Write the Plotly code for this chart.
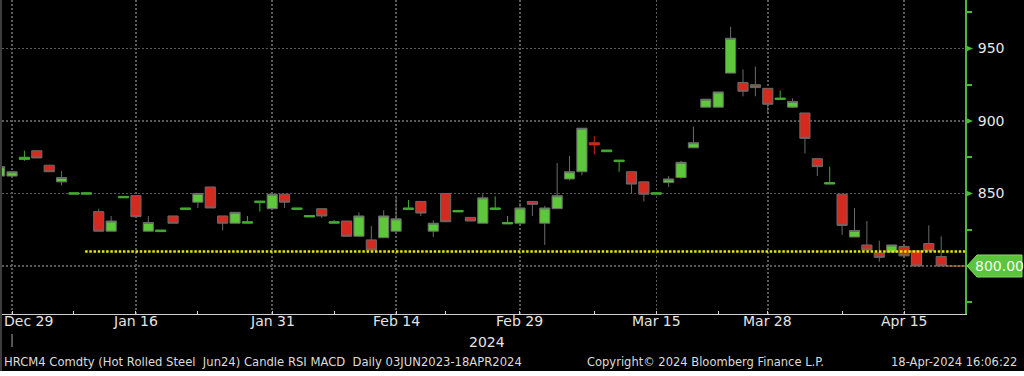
import plotly.graph_objects as go

# ---------------- data ----------------
dates = ["2023-12-28", "2023-12-29",
         "2024-01-02", "2024-01-03", "2024-01-04", "2024-01-05", "2024-01-08", "2024-01-09", "2024-01-10",
         "2024-01-11", "2024-01-12", "2024-01-16", "2024-01-17", "2024-01-18", "2024-01-19", "2024-01-22",
         "2024-01-23", "2024-01-24", "2024-01-25", "2024-01-26", "2024-01-29", "2024-01-30", "2024-01-31",
         "2024-02-01", "2024-02-02", "2024-02-05", "2024-02-06", "2024-02-07", "2024-02-08", "2024-02-09",
         "2024-02-12", "2024-02-13", "2024-02-14", "2024-02-15", "2024-02-16", "2024-02-20", "2024-02-21",
         "2024-02-22", "2024-02-23", "2024-02-26", "2024-02-27", "2024-02-28", "2024-02-29",
         "2024-03-01", "2024-03-04", "2024-03-05", "2024-03-06", "2024-03-07", "2024-03-08", "2024-03-11",
         "2024-03-12", "2024-03-13", "2024-03-14", "2024-03-15", "2024-03-18", "2024-03-19", "2024-03-20",
         "2024-03-21", "2024-03-22", "2024-03-25", "2024-03-26", "2024-03-27", "2024-03-28",
         "2024-04-01", "2024-04-02", "2024-04-03", "2024-04-04", "2024-04-05", "2024-04-08", "2024-04-09",
         "2024-04-10", "2024-04-11", "2024-04-12", "2024-04-15", "2024-04-16", "2024-04-17", "2024-04-18"]

opens = [862, 862, 873.5, 879.5, 869.5, 858, 849.5, 849.5, 837.5, 824,
         847, 848.5, 824, 823.7, 834.5, 839, 844, 854.5, 834.5, 829.5,
         829.5, 843.7, 839.5, 849.5, 839, 833.8, 839.5, 829.5, 831, 820.5,
         818, 819.5, 824, 839, 844.5, 824, 850, 837.3, 833.5, 829.5,
         839, 829, 829.5, 844.5, 829.5, 839.5, 860, 865, 885, 878.8,
         872, 865, 858, 849.5, 857.5, 861, 881.5, 909.5, 909.5, 933,
         926.5, 925, 922.5, 914.8, 909.5, 905.5, 874, 856.5, 849.5, 820,
         814.5, 809, 809.5, 813.5, 810.5, 815.5, 806.5]
closes = [868.5, 865, 875, 874.5, 865, 861, 850.5, 850.5, 824, 831,
          848, 834, 830, 824.8, 829.5, 840, 850, 840, 829.5, 837,
          830.5, 844.8, 849.5, 844, 840, 834.8, 834.5, 830.5, 820.5, 834.5,
          811, 834.5, 832.5, 840, 836.5, 829.5, 830.5, 838.3, 831, 847,
          840, 830, 840, 842.5, 840, 848.5, 865, 895, 883.5, 880,
          873, 856.5, 849.5, 850.5, 860, 871.5, 885, 915, 920, 957,
          920.5, 923, 911.5, 915.8, 913.5, 888, 868.5, 857.5, 828, 824.5,
          811, 806, 814.5, 807, 800, 810.5, 800]
highs = [869, 865, 879.5, 879.5, 869.5, 865.5, 850.5, 850.5, 839.5, 834.5,
         848, 848.5, 834.5, 824.8, 834.5, 840, 850, 854.5, 834.5, 837,
         834.5, 844.8, 850, 849.5, 840, 834.8, 839.5, 831.7, 831, 837,
         827.5, 838.5, 847, 845.5, 844.5, 831.5, 850, 838.6, 833.5, 849.5,
         848, 834.5, 843.5, 844.5, 841.5, 871, 876, 895, 889.5, 880,
         873, 865, 858, 850.5, 862, 872.5, 896, 915, 920, 965,
         935.5, 937.5, 922.5, 921, 915.5, 905.5, 874, 868.5, 849.5, 840,
         831, 817.5, 814.5, 813.5, 810.5, 828, 820.5]
lows = [861, 862, 872.5, 874.5, 865, 855.5, 849.5, 849.5, 824, 824,
        847, 834, 824, 823.7, 829.5, 839, 840, 840, 824.5, 829.5,
        829.5, 837.5, 839.5, 840, 839, 833.8, 833, 829.5, 820.5, 820.5,
        811, 819.5, 824, 839, 834.5, 820, 830.5, 837.3, 831, 829.5,
        839, 829, 829.5, 834.5, 814.5, 839.5, 859, 862.5, 877, 878.8,
        865, 850, 844.5, 849.5, 854.5, 860, 881.5, 909.5, 909.5, 933,
        917, 917, 905, 914.8, 909, 877.5, 862, 856.5, 821.5, 820,
        811, 803, 809.5, 807, 800, 810.5, 800]

major_dates = ["2023-12-29", "2024-01-16", "2024-01-31", "2024-02-14",
               "2024-02-29", "2024-03-15", "2024-03-28", "2024-04-15"]
major_labels = ["Dec 29", "Jan 16", "Jan 31", "Feb 14", "Feb 29", "Mar 15", "Mar 28", "Apr 15"]
minor_dates = ["2024-01-08", "2024-01-23", "2024-02-07", "2024-02-21",
               "2024-03-08", "2024-03-22", "2024-04-08"]
y_ticks = [800, 850, 900, 950]
y_tick_labels = ["", "850", "900", "950"]
y_minor = [775, 825, 875, 925, 975]
support_level = 810
support_start = "2024-01-09"
last_price = 800.00

title_text = "HRCM4 Comdty (Hot Rolled Steel  Jun24) Candle RSI MACD  Daily 03JUN2023-18APR2024"
copyright_text = "Copyright\u00a9 2024 Bloomberg Finance L.P."
stamp_text = "18-Apr-2024 16:06:22"
year_text = "2024"

# ---------------- style ----------------
FONT = "DejaVu Sans"
GREEN_AX = "#4cb83a"
GRID = "#5a5a5a"
W, H = 1024, 376
ML, MR, MT, MB = 2, 59, 0, 62
PW = W - ML - MR
PH = H - MT - MB
x_lo, x_hi = 0.19, 77.92
y_lo, y_hi = 766.9, 983.4
FLAT = 1.6  # bodies thinner than this are drawn as coloured dashes


def py(px):  # pixel row -> paper y
    return (PH - (px - MT)) / PH


def pxp(px):  # pixel column -> paper x
    return (px - ML) / PW


flat_idx = [i for i in range(len(dates)) if abs(closes[i] - opens[i]) <= FLAT]
body_idx = [i for i in range(len(dates)) if i not in flat_idx]


def pick(arr, idx):
    return [arr[i] for i in idx]


fig = go.Figure()
fig.add_trace(go.Candlestick(
    x=pick(dates, body_idx), open=pick(opens, body_idx), high=pick(highs, body_idx),
    low=pick(lows, body_idx), close=pick(closes, body_idx),
    increasing=dict(fillcolor="#5cc83a", line=dict(color="#6b6b6b", width=1)),
    decreasing=dict(fillcolor="#d42a20", line=dict(color="#6b6b6b", width=1)),
    whiskerwidth=0, hoverinfo="skip", showlegend=False))
fig.add_trace(go.Candlestick(
    x=pick(dates, flat_idx), open=pick(opens, flat_idx), high=pick(highs, flat_idx),
    low=pick(lows, flat_idx), close=pick(closes, flat_idx),
    increasing=dict(fillcolor="#5cc83a", line=dict(color="#42a830", width=1)),
    decreasing=dict(fillcolor="#d42a20", line=dict(color="#c02a20", width=1)),
    whiskerwidth=0, hoverinfo="skip", showlegend=False))
# helper trace carrying the categories of the grid axis
fig.add_trace(go.Scatter(x=dates, y=closes, xaxis="x2", mode="lines", line=dict(width=0),
                         opacity=0, hoverinfo="skip", showlegend=False))

shapes = [
    # support line
    dict(type="line", xref="x", yref="y", x0=dates.index(support_start) - 0.1, x1=x_hi,
         y0=support_level, y1=support_level,
         line=dict(color="#e6e600", width=2.5, dash="2.5px,1.7px"), layer="above"),
    # last price line
    dict(type="line", xref="x", yref="y", x0=len(dates) - 1 + 0.4, x1=x_hi,
         y0=last_price, y1=last_price, line=dict(color="#d0802c", width=1), layer="above"),
    # last price tag
    dict(type="path", xref="paper", yref="y", xsizemode="pixel", ysizemode="pixel",
         xanchor=1, yanchor=last_price,
         path="M 2,0 L 12,11 L 57,11 L 57,-11 L 12,-11 Z",
         fillcolor="#5cc43c", line=dict(color="#86d86c", width=1), layer="above"),
    # year marker under first date
    dict(type="line", xref="x", yref="paper", x0=1, x1=1, y0=py(334), y1=py(347),
         line=dict(color="#a8a8a8", width=1)),
    # white strip below the terminal window
    dict(type="rect", xref="paper", yref="paper", x0=-0.01, x1=1.1, y0=py(371), y1=py(380),
         fillcolor="white", line=dict(width=0), layer="above"),
    # left border
    dict(type="line", xref="paper", yref="paper", x0=pxp(1), x1=pxp(1), y0=1, y1=py(371),
         line=dict(color="#7a7a7a", width=1), layer="above"),
]
# triangle markers at the labelled price ticks
for v in y_ticks[1:]:
    shapes.append(dict(type="path", xref="paper", yref="y", xsizemode="pixel", ysizemode="pixel",
                       xanchor=1, yanchor=v, path="M 0,3.5 L 8,0 L 0,-3.5 Z",
                       fillcolor=GREEN_AX, line=dict(width=0), layer="above"))

annotations = []
for d, lab in zip(major_dates, major_labels):
    if d == major_dates[0]:
        annotations.append(dict(text=lab, xref="paper", x=pxp(2), xanchor="left",
                                yref="paper", y=py(321), yanchor="middle", showarrow=False,
                                font=dict(family=FONT, size=14, color="#e4e4e4")))
    else:
        annotations.append(dict(text=lab, xref="x", x=d, xanchor="center",
                                yref="paper", y=py(321), yanchor="middle", showarrow=False,
                                font=dict(family=FONT, size=14, color="#e4e4e4")))
annotations += [
    dict(text=year_text, xref="paper", x=pxp(487), xanchor="center", yref="paper", y=py(342),
         yanchor="middle", showarrow=False, font=dict(family=FONT, size=14, color="#e4e4e4")),
    dict(text=title_text, xref="paper", x=pxp(2), xanchor="left", yref="paper", y=py(362),
         yanchor="middle", showarrow=False, font=dict(family=FONT, size=11.6, color="#dcdcdc")),
    dict(text=copyright_text, xref="paper", x=pxp(705), xanchor="center", yref="paper", y=py(362),
         yanchor="middle", showarrow=False, font=dict(family=FONT, size=11.5, color="#dcdcdc")),
    dict(text=stamp_text, xref="paper", x=pxp(1019), xanchor="right", yref="paper", y=py(362),
         yanchor="middle", showarrow=False, font=dict(family=FONT, size=11.5, color="#dcdcdc")),
    dict(text=f"{last_price:.2f}", xref="paper", x=1, xanchor="left", xshift=8, yref="y",
         y=last_price, yanchor="middle", showarrow=False,
         font=dict(family=FONT, size=14, color="#f2fff0")),
]

fig.update_layout(
    width=W, height=H, autosize=False,
    margin=dict(l=ML, r=MR, t=MT, b=MB, pad=0),
    paper_bgcolor="black", plot_bgcolor="black",
    showlegend=False, boxgap=0.18, boxgroupgap=0, boxmode="overlay",
    font=dict(family=FONT, color="#e4e4e4"),
    xaxis=dict(type="category", range=[x_lo, x_hi], categoryorder="array", categoryarray=dates,
               tickvals=major_dates + minor_dates, showticklabels=False,
               ticks="inside", ticklen=3, tickcolor="#d0d0d0", tickwidth=1,
               showgrid=False, zeroline=False, showline=True, linecolor="#d0d0d0", linewidth=1,
               rangeslider=dict(visible=False), fixedrange=True),
    xaxis2=dict(type="category", overlaying="x", anchor="y", range=[x_lo, x_hi],
                categoryorder="array", categoryarray=dates,
                tickvals=major_dates, showticklabels=False, ticks="",
                showgrid=True, gridcolor=GRID, gridwidth=1.5, griddash="2px,2px",
                zeroline=False, showline=False, fixedrange=True),
    yaxis=dict(side="right", range=[y_lo, y_hi], tickvals=y_ticks, ticktext=y_tick_labels,
               tickfont=dict(family=FONT, size=14, color="#e8e8e8"), ticks="",
               ticklabelstandoff=8,
               showline=True, linecolor=GREEN_AX, linewidth=2,
               showgrid=True, gridcolor=GRID, gridwidth=1.5, griddash="2px,2px",
               zeroline=False, fixedrange=True,
               minor=dict(tickvals=y_minor, ticks="outside", ticklen=5, tickcolor=GREEN_AX,
                          tickwidth=2, showgrid=False)),
    shapes=shapes, annotations=annotations,
)

fig.write_html("out.html", config={"displayModeBar": False, "staticPlot": True},
               post_script="document.body.style.margin='0px';document.body.style.background='black';")
